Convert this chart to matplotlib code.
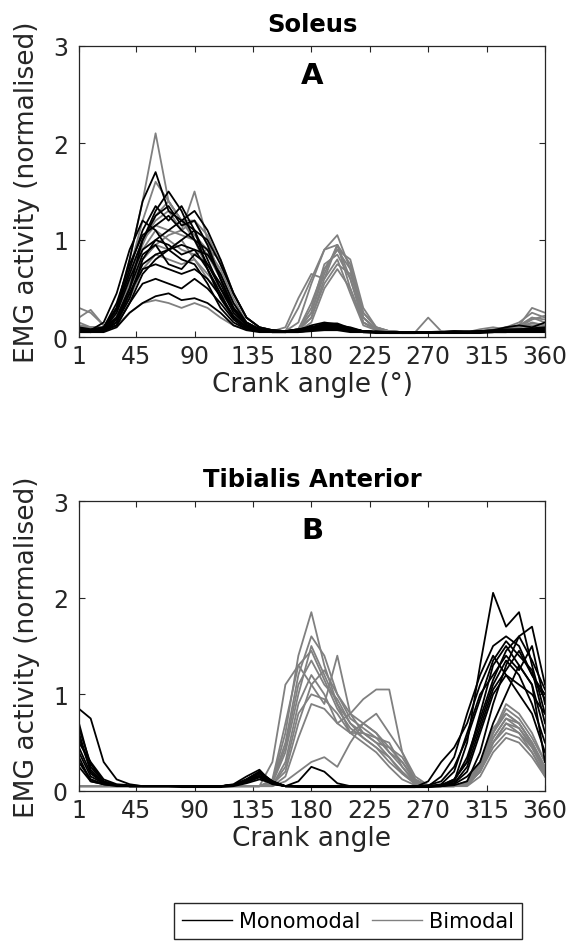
import matplotlib
matplotlib.use("Agg")
import matplotlib.pyplot as plt
from matplotlib.lines import Line2D

plt.rcParams['font.family'] = ['DejaVu Sans']

# Crank angle sample points (degrees)
angles = [1, 10, 20, 30, 40, 50, 60, 70, 80, 90, 100, 110, 120, 130, 140, 150, 160, 170, 180,
          190, 200, 210, 220, 230, 240, 250, 260, 270, 280, 290, 300, 310, 320, 330, 340, 350, 360]

x_ticks = [1, 45, 90, 135, 180, 225, 270, 315, 360]
y_ticks = [0, 1, 2, 3]

# ---------------- Soleus (A) ----------------
soleus_mono = [
    [0.08,0.07,0.10,0.30,0.80,1.40,1.70,1.30,1.20,1.10,0.80,0.50,0.25,0.12,0.08,0.06,0.06,0.08,0.10,0.12,0.12,0.10,0.06,0.05,0.05,0.05,0.05,0.05,0.05,0.06,0.05,0.06,0.07,0.08,0.08,0.09,0.10],
    [0.06,0.05,0.06,0.15,0.40,0.80,1.00,1.10,1.20,1.30,1.10,0.80,0.45,0.20,0.10,0.07,0.06,0.07,0.12,0.15,0.13,0.08,0.06,0.05,0.05,0.05,0.05,0.05,0.05,0.05,0.05,0.06,0.06,0.06,0.07,0.07,0.07],
    [0.07,0.06,0.08,0.25,0.60,0.90,1.00,0.95,0.85,0.90,0.70,0.45,0.20,0.10,0.07,0.06,0.05,0.06,0.08,0.10,0.10,0.08,0.06,0.05,0.05,0.04,0.05,0.05,0.05,0.05,0.05,0.05,0.06,0.06,0.06,0.07,0.08],
    [0.05,0.05,0.06,0.12,0.35,0.55,0.60,0.55,0.50,0.60,0.50,0.35,0.18,0.08,0.06,0.05,0.05,0.05,0.07,0.08,0.08,0.06,0.05,0.05,0.04,0.04,0.04,0.05,0.05,0.05,0.04,0.05,0.05,0.05,0.06,0.06,0.06],
    [0.10,0.08,0.10,0.20,0.50,1.00,1.30,1.50,1.30,1.00,0.75,0.50,0.30,0.15,0.08,0.07,0.06,0.08,0.10,0.12,0.10,0.08,0.06,0.06,0.05,0.05,0.05,0.05,0.05,0.05,0.05,0.06,0.06,0.07,0.07,0.08,0.09],
    [0.06,0.06,0.07,0.15,0.45,0.75,0.85,0.90,0.95,0.90,0.85,0.65,0.35,0.15,0.08,0.06,0.06,0.07,0.09,0.11,0.10,0.07,0.05,0.05,0.05,0.05,0.05,0.05,0.04,0.05,0.05,0.05,0.05,0.06,0.06,0.07,0.07],
    [0.08,0.07,0.15,0.45,0.90,1.20,1.10,0.90,0.80,0.75,0.55,0.30,0.15,0.08,0.06,0.05,0.05,0.06,0.08,0.09,0.09,0.07,0.05,0.05,0.05,0.05,0.05,0.05,0.05,0.05,0.05,0.05,0.06,0.06,0.07,0.08,0.08],
    [0.05,0.05,0.05,0.10,0.25,0.35,0.42,0.45,0.38,0.40,0.35,0.25,0.12,0.07,0.05,0.05,0.05,0.05,0.06,0.07,0.07,0.05,0.05,0.04,0.04,0.04,0.04,0.04,0.04,0.04,0.04,0.04,0.05,0.05,0.05,0.05,0.05],
    [0.07,0.06,0.07,0.12,0.35,0.65,0.80,0.90,1.00,1.10,1.00,0.75,0.45,0.20,0.10,0.07,0.06,0.06,0.10,0.13,0.12,0.08,0.06,0.05,0.05,0.05,0.05,0.05,0.05,0.05,0.05,0.05,0.05,0.06,0.06,0.06,0.06],
    [0.09,0.07,0.09,0.30,0.70,1.10,1.35,1.20,1.35,1.10,0.70,0.40,0.20,0.10,0.07,0.06,0.06,0.07,0.09,0.10,0.11,0.08,0.06,0.05,0.05,0.05,0.05,0.05,0.05,0.06,0.06,0.06,0.07,0.10,0.12,0.10,0.15],
    [0.06,0.06,0.10,0.35,0.75,1.05,1.15,1.25,1.10,1.00,0.90,0.60,0.30,0.12,0.07,0.06,0.05,0.06,0.10,0.14,0.14,0.09,0.06,0.05,0.05,0.05,0.05,0.05,0.05,0.05,0.05,0.05,0.06,0.06,0.07,0.07,0.08],
    [0.07,0.06,0.07,0.20,0.50,0.85,0.95,0.75,0.70,0.85,0.75,0.55,0.28,0.12,0.07,0.06,0.06,0.06,0.08,0.10,0.10,0.07,0.05,0.05,0.05,0.05,0.05,0.05,0.05,0.05,0.05,0.05,0.05,0.06,0.06,0.06,0.07],
    [0.08,0.07,0.09,0.28,0.65,1.00,1.25,1.35,1.15,1.20,0.95,0.60,0.30,0.14,0.08,0.06,0.06,0.07,0.10,0.12,0.12,0.08,0.06,0.05,0.05,0.05,0.05,0.05,0.05,0.05,0.05,0.06,0.06,0.07,0.08,0.08,0.09],
    [0.06,0.05,0.06,0.18,0.45,0.70,0.75,0.70,0.65,0.70,0.60,0.42,0.22,0.10,0.06,0.05,0.05,0.06,0.08,0.09,0.09,0.06,0.05,0.05,0.05,0.04,0.04,0.05,0.05,0.05,0.05,0.05,0.05,0.05,0.06,0.06,0.06],
]

soleus_bi = [
    [0.15,0.10,0.10,0.30,0.80,1.40,2.10,1.40,1.20,1.00,0.70,0.40,0.20,0.10,0.06,0.05,0.06,0.30,0.60,0.90,0.95,0.50,0.15,0.08,0.05,0.05,0.05,0.05,0.06,0.06,0.05,0.06,0.08,0.10,0.15,0.25,0.20],
    [0.30,0.25,0.12,0.20,0.60,1.00,1.20,1.30,1.10,1.50,1.00,0.60,0.25,0.12,0.08,0.06,0.06,0.15,0.55,0.90,1.05,0.70,0.20,0.08,0.06,0.05,0.05,0.05,0.05,0.06,0.06,0.05,0.06,0.10,0.12,0.30,0.25],
    [0.20,0.28,0.12,0.15,0.50,0.80,0.95,0.90,1.00,0.80,0.60,0.45,0.30,0.15,0.08,0.06,0.10,0.40,0.65,0.60,0.95,0.60,0.15,0.08,0.06,0.05,0.05,0.20,0.06,0.05,0.05,0.08,0.10,0.08,0.10,0.20,0.15],
    [0.10,0.08,0.08,0.20,0.55,0.90,1.10,1.00,0.90,0.85,0.90,0.70,0.40,0.15,0.08,0.06,0.06,0.08,0.30,0.75,0.85,0.60,0.20,0.08,0.06,0.05,0.05,0.05,0.05,0.05,0.05,0.06,0.07,0.08,0.10,0.12,0.10],
    [0.08,0.07,0.08,0.18,0.40,0.70,0.85,0.80,0.75,0.80,0.65,0.50,0.30,0.12,0.07,0.06,0.06,0.07,0.20,0.60,0.80,0.45,0.12,0.07,0.05,0.05,0.05,0.05,0.05,0.05,0.05,0.06,0.06,0.07,0.08,0.10,0.08],
    [0.12,0.10,0.10,0.30,0.70,1.20,1.60,1.40,1.20,1.20,0.95,0.65,0.35,0.15,0.08,0.06,0.06,0.08,0.35,0.70,0.90,0.80,0.30,0.10,0.06,0.05,0.05,0.05,0.05,0.05,0.05,0.06,0.07,0.09,0.10,0.18,0.22],
    [0.10,0.08,0.08,0.12,0.25,0.35,0.38,0.35,0.30,0.35,0.30,0.20,0.12,0.08,0.06,0.05,0.05,0.06,0.15,0.50,0.70,0.50,0.15,0.07,0.05,0.05,0.05,0.05,0.05,0.05,0.05,0.06,0.06,0.07,0.08,0.10,0.10],
    [0.09,0.08,0.09,0.22,0.60,0.95,1.25,1.40,1.20,1.05,0.90,0.80,0.45,0.20,0.10,0.07,0.06,0.07,0.25,0.65,0.95,0.75,0.25,0.10,0.06,0.05,0.05,0.05,0.05,0.05,0.05,0.05,0.06,0.07,0.10,0.15,0.12],
    [0.10,0.09,0.09,0.25,0.65,1.00,1.15,1.10,1.05,1.00,0.85,0.60,0.35,0.15,0.08,0.06,0.06,0.08,0.25,0.70,0.90,0.70,0.20,0.08,0.06,0.05,0.05,0.05,0.05,0.05,0.05,0.06,0.06,0.08,0.10,0.14,0.12],
    [0.12,0.10,0.10,0.22,0.50,0.80,0.95,1.05,1.10,1.20,1.05,0.75,0.45,0.20,0.10,0.07,0.06,0.07,0.20,0.55,0.75,0.65,0.25,0.10,0.06,0.05,0.05,0.05,0.05,0.05,0.05,0.06,0.07,0.09,0.12,0.20,0.18],
]

# ---------------- Tibialis Anterior (B) ----------------
ta_mono = [
    [0.85,0.75,0.30,0.12,0.07,0.05,0.05,0.05,0.04,0.04,0.04,0.04,0.05,0.08,0.12,0.08,0.05,0.04,0.04,0.04,0.04,0.04,0.04,0.04,0.04,0.04,0.04,0.04,0.05,0.10,0.50,1.30,2.05,1.70,1.85,1.30,0.80],
    [0.50,0.30,0.12,0.07,0.06,0.05,0.05,0.05,0.05,0.05,0.05,0.05,0.06,0.12,0.20,0.10,0.05,0.05,0.04,0.04,0.04,0.04,0.04,0.04,0.04,0.04,0.04,0.05,0.15,0.35,0.80,1.20,1.50,1.60,1.50,1.20,1.00],
    [0.60,0.20,0.08,0.06,0.05,0.05,0.05,0.05,0.05,0.05,0.05,0.05,0.07,0.15,0.22,0.08,0.05,0.05,0.05,0.05,0.05,0.04,0.04,0.04,0.04,0.04,0.04,0.04,0.06,0.12,0.30,0.80,1.30,1.50,1.30,1.10,0.60],
    [0.40,0.15,0.08,0.06,0.05,0.05,0.05,0.05,0.05,0.05,0.05,0.05,0.06,0.10,0.15,0.08,0.05,0.05,0.05,0.05,0.05,0.05,0.05,0.05,0.05,0.05,0.05,0.05,0.05,0.08,0.20,0.60,1.00,1.20,1.10,1.00,0.80],
    [0.30,0.12,0.07,0.06,0.05,0.05,0.05,0.05,0.05,0.05,0.05,0.05,0.06,0.10,0.18,0.10,0.05,0.05,0.05,0.05,0.05,0.05,0.05,0.04,0.04,0.04,0.04,0.10,0.30,0.45,0.70,1.10,1.40,1.20,1.00,0.80,0.40],
    [0.70,0.25,0.10,0.06,0.05,0.05,0.05,0.05,0.05,0.05,0.05,0.05,0.06,0.09,0.14,0.07,0.05,0.05,0.05,0.05,0.05,0.05,0.05,0.05,0.05,0.05,0.05,0.05,0.05,0.06,0.10,0.40,0.90,1.30,1.60,1.70,1.10],
    [0.35,0.10,0.07,0.06,0.05,0.05,0.05,0.05,0.05,0.05,0.05,0.05,0.06,0.12,0.20,0.10,0.05,0.05,0.05,0.05,0.05,0.05,0.05,0.05,0.05,0.05,0.05,0.05,0.05,0.07,0.15,0.30,0.70,1.00,1.30,1.10,0.30],
    [0.45,0.18,0.08,0.06,0.05,0.05,0.05,0.05,0.05,0.05,0.05,0.05,0.06,0.10,0.16,0.09,0.05,0.05,0.05,0.05,0.05,0.05,0.05,0.05,0.05,0.05,0.05,0.05,0.07,0.20,0.60,1.00,1.20,1.40,1.25,1.50,0.90],
    [0.25,0.10,0.07,0.05,0.05,0.05,0.05,0.05,0.05,0.05,0.05,0.05,0.06,0.10,0.15,0.08,0.05,0.10,0.25,0.20,0.08,0.05,0.05,0.05,0.05,0.05,0.05,0.05,0.06,0.12,0.30,0.70,1.10,1.35,1.20,0.90,0.50],
    [0.55,0.22,0.09,0.06,0.05,0.05,0.05,0.05,0.05,0.05,0.05,0.05,0.06,0.11,0.18,0.09,0.05,0.05,0.05,0.05,0.05,0.05,0.05,0.05,0.05,0.05,0.05,0.06,0.10,0.25,0.55,0.95,1.35,1.55,1.40,1.25,0.70],
    [0.30,0.12,0.07,0.06,0.05,0.05,0.05,0.05,0.05,0.05,0.05,0.05,0.06,0.10,0.15,0.08,0.05,0.05,0.05,0.05,0.05,0.05,0.05,0.05,0.05,0.05,0.05,0.05,0.06,0.10,0.35,0.75,1.15,1.45,1.60,1.35,1.05],
    [0.65,0.28,0.10,0.06,0.05,0.05,0.05,0.05,0.05,0.05,0.05,0.05,0.06,0.12,0.19,0.09,0.05,0.05,0.05,0.05,0.05,0.05,0.05,0.05,0.05,0.05,0.05,0.05,0.05,0.08,0.25,0.65,1.05,1.25,1.45,1.20,0.95],
]

ta_bi = [
    [0.05,0.05,0.05,0.05,0.05,0.05,0.05,0.05,0.05,0.05,0.05,0.05,0.05,0.05,0.05,0.10,0.60,1.40,1.85,1.30,0.90,0.60,0.50,0.40,0.25,0.12,0.06,0.05,0.05,0.05,0.10,0.30,0.60,0.80,0.70,0.50,0.20],
    [0.05,0.05,0.05,0.05,0.05,0.05,0.05,0.05,0.05,0.05,0.05,0.05,0.05,0.05,0.05,0.06,0.30,0.90,1.20,1.00,0.70,0.80,0.95,1.05,1.05,0.40,0.10,0.05,0.05,0.05,0.08,0.20,0.50,0.70,0.65,0.45,0.20],
    [0.05,0.05,0.05,0.05,0.05,0.05,0.05,0.05,0.05,0.05,0.05,0.05,0.05,0.05,0.05,0.30,1.10,1.30,1.10,0.90,1.40,0.80,0.60,0.50,0.35,0.20,0.08,0.05,0.05,0.05,0.10,0.30,0.60,0.90,0.80,0.60,0.30],
    [0.05,0.05,0.05,0.05,0.05,0.05,0.05,0.05,0.05,0.05,0.05,0.05,0.05,0.05,0.05,0.08,0.40,1.00,1.50,1.20,0.90,0.70,0.60,0.50,0.45,0.30,0.10,0.05,0.05,0.05,0.06,0.20,0.45,0.60,0.55,0.40,0.15],
    [0.05,0.05,0.05,0.05,0.05,0.05,0.05,0.05,0.05,0.05,0.05,0.05,0.05,0.05,0.05,0.05,0.10,0.20,0.30,0.35,0.25,0.50,0.70,0.60,0.45,0.35,0.12,0.05,0.05,0.05,0.05,0.15,0.40,0.55,0.50,0.35,0.15],
    [0.05,0.05,0.05,0.05,0.05,0.05,0.05,0.05,0.05,0.05,0.05,0.05,0.05,0.05,0.05,0.07,0.20,0.70,1.10,1.25,1.00,0.75,0.65,0.55,0.50,0.25,0.08,0.05,0.05,0.05,0.08,0.25,0.55,0.75,0.70,0.50,0.25],
    [0.05,0.05,0.05,0.05,0.05,0.05,0.05,0.05,0.05,0.05,0.05,0.05,0.05,0.05,0.05,0.06,0.25,0.80,1.00,0.95,0.80,0.60,0.70,0.80,0.60,0.40,0.15,0.06,0.05,0.05,0.07,0.22,0.50,0.65,0.60,0.45,0.20],
    [0.05,0.05,0.05,0.05,0.05,0.05,0.05,0.05,0.05,0.05,0.05,0.05,0.05,0.05,0.05,0.10,0.50,1.20,1.60,1.40,1.00,0.80,0.70,0.60,0.40,0.25,0.10,0.05,0.05,0.05,0.08,0.28,0.60,0.85,0.75,0.55,0.30],
    [0.05,0.05,0.05,0.05,0.05,0.05,0.05,0.05,0.05,0.05,0.05,0.05,0.05,0.05,0.05,0.12,0.70,1.30,1.45,1.15,0.85,0.65,0.55,0.45,0.35,0.18,0.07,0.05,0.05,0.05,0.09,0.30,0.65,0.80,0.70,0.50,0.25],
    [0.05,0.05,0.05,0.05,0.05,0.05,0.05,0.05,0.05,0.05,0.05,0.05,0.05,0.05,0.05,0.05,0.15,0.55,0.90,0.85,0.70,0.60,0.60,0.55,0.40,0.30,0.12,0.05,0.05,0.05,0.06,0.20,0.50,0.70,0.60,0.40,0.18],
    [0.05,0.05,0.05,0.05,0.05,0.05,0.05,0.05,0.05,0.05,0.05,0.05,0.05,0.05,0.05,0.09,0.45,1.10,1.35,1.10,0.95,0.70,0.55,0.45,0.30,0.18,0.08,0.05,0.05,0.05,0.07,0.25,0.55,0.75,0.65,0.48,0.22],
]

MONO_COLOR = "#000000"
BI_COLOR = "#808080"
AX_COLOR = "#262626"

fig = plt.figure(figsize=(5.68, 9.45), dpi=100)
ax_a = fig.add_axes([79/568, 1-338/945, (545-79)/568, 291/945])
ax_b = fig.add_axes([79/568, 1-792/945, (545-79)/568, 290/945])

panels = [
    (ax_a, soleus_mono, soleus_bi, "Soleus", "A", "Crank angle (°)"),
    (ax_b, ta_mono, ta_bi, "Tibialis Anterior", "B", "Crank angle"),
]

for ax, mono, bi, title, letter, xlabel in panels:
    for tr in bi:
        ax.plot(angles, tr, color=BI_COLOR, lw=1.3)
    for tr in mono:
        ax.plot(angles, tr, color=MONO_COLOR, lw=1.3)
    ax.set_xlim(1, 360)
    ax.set_ylim(0, 3)
    ax.set_xticks(x_ticks)
    ax.set_yticks(y_ticks)
    ax.tick_params(direction='in', top=True, right=True, length=4, width=0.8,
                   labelsize=17, colors=AX_COLOR)
    ax.tick_params(axis='x', pad=5)
    ax.tick_params(axis='y', pad=8)
    for sp in ax.spines.values():
        sp.set_color(AX_COLOR)
        sp.set_linewidth(0.9)
    ax.set_title(title, fontsize=17.5, fontweight='bold', pad=11)
    ax.text(0.5, 0.90, letter, transform=ax.transAxes, ha='center', va='center',
            fontsize=21, fontweight='bold')
    ax.set_xlabel(xlabel, fontsize=19, color=AX_COLOR, labelpad=2)
    ax.set_ylabel("EMG activity (normalised)", fontsize=19, color=AX_COLOR, labelpad=9)

handles = [Line2D([], [], color=MONO_COLOR, lw=1.0), Line2D([], [], color=BI_COLOR, lw=1.0)]
fig.legend(handles, ["Monomodal", "Bimodal"], loc='center',
           bbox_to_anchor=(348/568, 1-922/945), ncol=2, fontsize=15,
           frameon=True, fancybox=False, edgecolor=AX_COLOR, framealpha=1,
           handlelength=2.4, columnspacing=0.6, handletextpad=0.3,
           borderpad=0.4, borderaxespad=0)

fig.savefig("out.png", dpi=100)
